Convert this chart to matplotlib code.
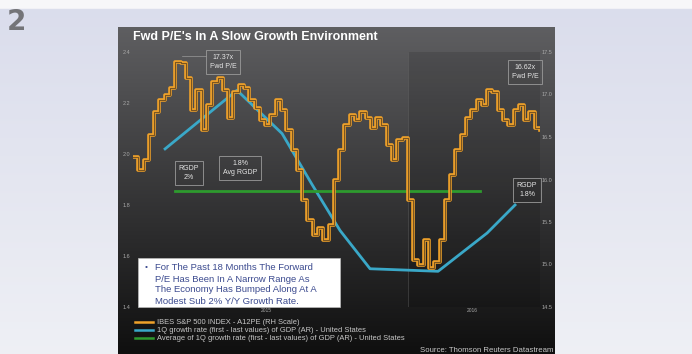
import numpy as np
import matplotlib
matplotlib.use("Agg")
import matplotlib.pyplot as plt
from matplotlib.patches import Rectangle
from matplotlib.lines import Line2D

plt.rcParams['font.family'] = ['Liberation Sans', 'DejaVu Sans']

# weekly forward P/E, Jan 2015 - Jul 2016 (right scale)
pe = [16.26, 16.11, 16.23, 16.52, 16.79, 16.94, 17.00, 17.08, 17.38, 17.37,
      17.19, 16.82, 17.05, 16.58, 16.88, 17.15, 17.20, 17.05, 16.72, 17.03,
      17.11, 17.08, 16.94, 16.84, 16.70, 16.64, 16.76, 16.94, 16.82, 16.58,
      16.35, 16.11, 15.76, 15.52, 15.35, 15.43, 15.29, 15.46, 15.99, 16.35,
      16.64, 16.76, 16.70, 16.79, 16.72, 16.61, 16.72, 16.64, 16.41, 16.23,
      16.46, 16.49, 15.76, 15.05, 14.99, 15.29, 14.96, 15.03, 15.29, 15.76,
      16.05, 16.35, 16.52, 16.72, 16.82, 16.94, 16.88, 17.05, 17.03, 16.82,
      16.70, 16.64, 16.82, 16.88, 16.70, 16.79, 16.61, 16.58]
pe_months = np.arange(len(pe)) * 12 / 52

# GDP growth (left scale), months since Jan 2015
gdp_months = [1.40, 4.54, 6.51, 7.82, 9.04, 10.35, 13.32, 15.46, 16.68]
gdp = [2.02, 2.25, 2.08, 1.88, 1.70, 1.55, 1.54, 1.69, 1.80]
avg_months = [1.85, 15.15]
avg_gdp = 1.855

left_ticks = [2.4, 2.2, 2.0, 1.8, 1.6, 1.4]
right_ticks = [17.5, 17.0, 16.5, 16.0, 15.5, 15.0, 14.5]

W, H = 692, 354
fig = plt.figure(figsize=(W / 100, H / 100), dpi=100)


def fx(x):
    return x / W


def fy(y):
    return 1 - y / H


# page background
bg = fig.add_axes([0, 0, 1, 1])
grad = np.linspace(0, 1, 200)[:, None]
c1 = np.array([0.855, 0.865, 0.925])
c2 = np.array([0.935, 0.94, 0.96])
img = c1 + (c2 - c1) * grad
img = np.repeat(img[:, None, :], 2, axis=1).reshape(200, 2, 3)
img[:5] = [0.97, 0.97, 0.98]
bg.imshow(img, aspect='auto', extent=[0, 1, 0, 1])
bg.axis('off')
fig.text(fx(16), fy(22), "2", fontsize=20, fontweight='bold', color='#747478',
         ha='center', va='center', family='DejaVu Sans')

# dark panel
pl = fig.add_axes([fx(118), 0, fx(555) - fx(118), fy(27)])
g = np.linspace(0, 1, 200)[:, None]
top = np.array([0.37, 0.37, 0.38])
bot = np.array([0.06, 0.06, 0.06])
pimg = top + (bot - top) * g
pimg = np.repeat(pimg[:, None, :], 2, axis=1).reshape(200, 2, 3)
pl.imshow(pimg, aspect='auto', extent=[0, 1, 0, 1])
pl.axis('off')

fig.text(fx(133), fy(37), "Fwd P/E's In A Slow Growth Environment", color='white',
         fontsize=9, fontweight='bold', ha='left', va='center')

# main axes
ax = fig.add_axes([fx(133), fy(307), fx(540) - fx(133), fy(52) - fy(307)])
ax.patch.set_alpha(0)
ax.set_xlim(0, 17.77)
ax.set_ylim(1.4, 2.4)
ax2 = ax.twinx()
ax2.set_ylim(14.5, 17.5)

# 2016 shaded region
ax.axvspan(12, 17.77, color='black', alpha=0.12, lw=0)
ax.plot([12, 12], [1.4, 2.4], color='#777777', lw=0.4, alpha=0.6)

ax.plot(gdp_months, gdp, color='#3aa8c8', lw=2, zorder=3)
ax.plot(avg_months, [avg_gdp, avg_gdp], color='#2e9a2e', lw=2, zorder=3)
ax2.plot(pe_months, pe, color='#f0a22a', lw=2.6, drawstyle='steps-post', zorder=4)
ax2.plot(pe_months, pe, color='#7a5520', lw=0.8, drawstyle='steps-post', zorder=5)

for a in (ax, ax2):
    for s in a.spines.values():
        s.set_visible(False)
    a.tick_params(length=0, labelsize=4, colors='#a8a8a8')
ax.set_xticks([])
ax.set_yticks(left_ticks)
ax.set_yticklabels([f"{v:.1f}" for v in left_ticks])
ax.tick_params(axis='y', pad=2)
ax2.set_yticks(right_ticks)
ax2.set_yticklabels([f"{v:.1f}" for v in right_ticks])
ax2.tick_params(axis='y', pad=1)

fig.text(fx(266), fy(311), "2015", fontsize=3.5, color='#a8a8a8', ha='center', va='center')
fig.text(fx(472), fy(311), "2016", fontsize=3.5, color='#a8a8a8', ha='center', va='center')

# annotation boxes
boxes = [("17.37x\nFwd P/E", 223, 62), ("16.62x\nFwd P/E", 525, 72),
         ("RGDP\n2%", 189, 173), ("1.8%\nAvg RGDP", 240, 168),
         ("RGDP\n1.8%", 527, 190)]
for txt, x, y in boxes:
    fig.text(fx(x), fy(y), txt, fontsize=5, color='#e6e6e6', ha='center', va='center',
             linespacing=1.5,
             bbox=dict(boxstyle='square,pad=0.5', fc='none', ec='#9a9a9a', lw=0.6))
fig.add_artist(Line2D([fx(182), fx(206)], [fy(56), fy(56)], color='#9a9a9a', lw=0.5))

# comment box
fig.add_artist(Rectangle((fx(138), fy(307)), fx(340) - fx(138), fy(258) - fy(307),
                         transform=fig.transFigure, fc='white', ec='#bbbbbb', lw=0.5))
fig.text(fx(146), fy(268), "\u2022", fontsize=6, color='#3b4a8f', ha='center', va='center')
lines = ["For The Past 18 Months The Forward", "P/E Has Been In A Narrow Range As",
         "The Economy Has Bumped Along At A", "Modest Sub 2% Y/Y Growth Rate."]
for i, ln in enumerate(lines):
    fig.text(fx(155), fy(268 + i * 11), ln, fontsize=6.8, color='#3b4a8f',
             ha='left', va='center')

# legend
leg = [("#f0a22a", "IBES S&P 500 INDEX - A12PE (RH Scale)"),
       ("#3aa8c8", "1Q growth rate (first - last values) of GDP (AR) - United States"),
       ("#2e9a2e", "Average of 1Q growth rate (first - last values) of GDP (AR) - United States")]
for i, (c, t) in enumerate(leg):
    y = 322 + i * 8
    fig.add_artist(Line2D([fx(135), fx(153)], [fy(y), fy(y)], color=c, lw=1.8))
    fig.text(fx(157), fy(y), t, fontsize=5.4, color='#c8c8c8', ha='left', va='center')

fig.text(fx(553), fy(350), "Source: Thomson Reuters Datastream", fontsize=5.6,
         color='#c8c8c8', ha='right', va='center')

fig.savefig("out.png", dpi=100)
